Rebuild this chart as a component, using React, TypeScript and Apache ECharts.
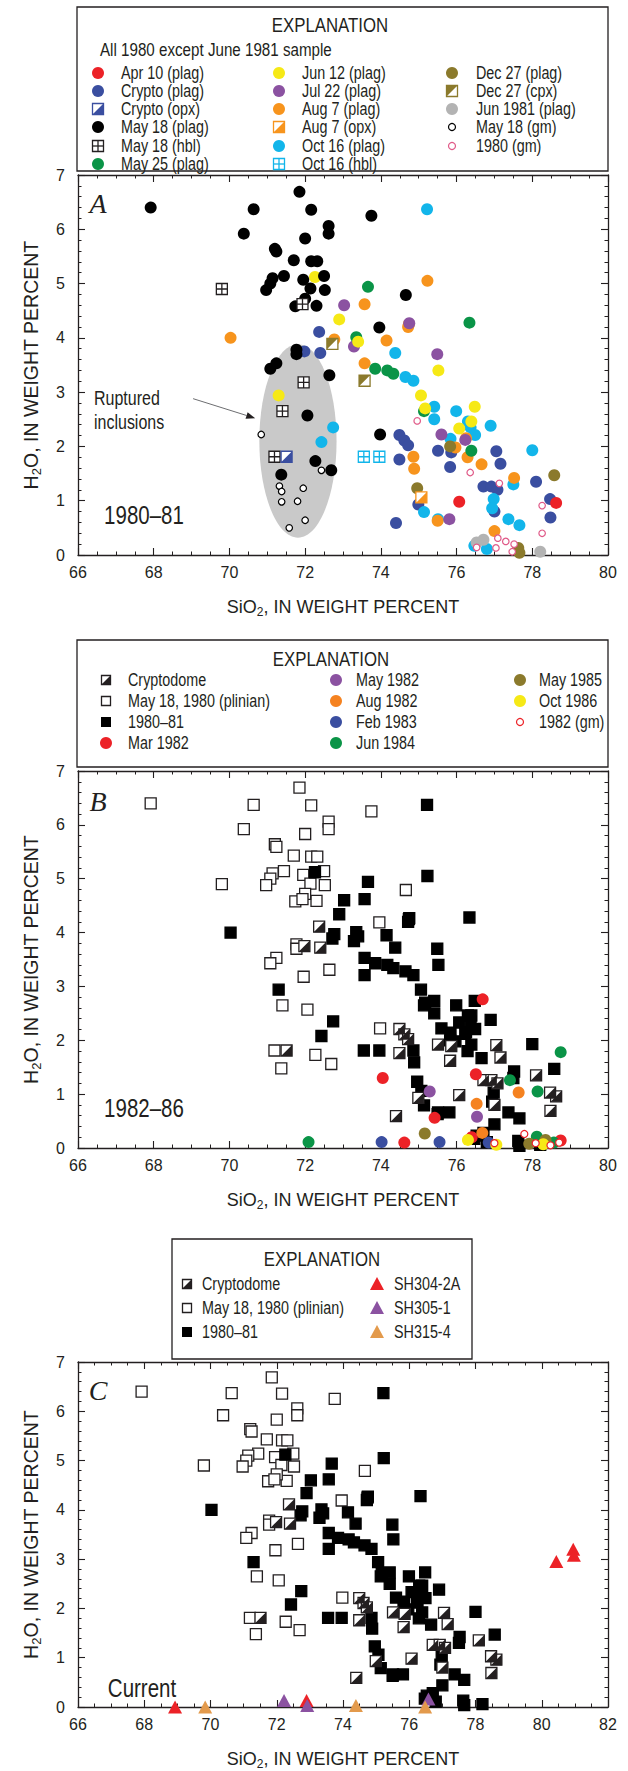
import React, { useEffect, useRef } from "react";
import * as echarts from "echarts";

// ---------- page / layout ----------
const W = 628;
const H = 1771;
const SANS = "'Liberation Sans', Arial, sans-serif";
const SERIF = "'Liberation Serif', 'Times New Roman', serif";
const INK = "#231f20";
// condensed lettering is drawn with the sans face squeezed horizontally
const NARROW_SCALE = 0.82;

const PLOT_LEFT = 78;
const PLOT_WIDTH = 530;
const PANELS = [
  { top: 175, height: 380, xMax: 80 },
  { top: 771, height: 377, xMax: 80 },
  { top: 1362, height: 364, xMax: 82 },
];

// ---------- colours ----------
const C_RED = "#ec2227";
const C_BLUE = "#3a4ea0";
const C_GREEN = "#0a9447";
const C_YELLOW = "#f6e916";
const C_PURPLE = "#8b52a1";
const C_ORANGE = "#f7941d";
const C_ORANGE_B = "#f58220";
const C_CYAN = "#12b5ea";
const C_OLIVE = "#8b7a2c";
const C_GRAY = "#b3b3b3";
const C_PINK = "#e05a88";
const C_TAN = "#e39a4c";
const C_ELLIPSE = "#c9c9c9";

// ---------- panel A data: SiO2 (wt %), H2O (wt %) ----------
const apr10Plag: number[][] = [[76.07, 0.98], [78.63, 0.96]];
const cryptoPlag: number[][] = [
  [72.37, 4.11], [71.98, 3.75], [72.4, 3.72], [74.49, 2.21], [74.62, 2.11], [74.72, 2.02],
  [74.49, 1.76], [75.51, 1.92], [75.86, 1.89], [75.83, 1.62], [77.05, 1.91], [77.16, 1.68],
  [76.71, 1.26], [76.92, 1.26], [77.08, 1.2], [78.1, 1.35], [78.47, 1.03], [78.48, 0.69],
  [77.0, 0.8], [74.4, 0.59], [74.99, 0.93],
];
const cryptoOpx: number[][] = [[71.51, 1.81]];
const may18Plag: number[][] = [
  [67.92, 6.4], [70.64, 6.37], [70.38, 5.92], [71.85, 6.69], [72.16, 6.36], [72.62, 6.06],
  [72.62, 5.92], [73.75, 6.25], [72.0, 5.83], [71.2, 5.64], [71.24, 5.59], [71.7, 5.43],
  [72.16, 5.41], [72.32, 5.41], [71.44, 5.14], [71.14, 5.1], [71.08, 5.0], [70.97, 4.88],
  [71.95, 5.07], [72.5, 5.14], [72.52, 4.88], [72.14, 4.91], [71.74, 4.58], [72.3, 4.59],
  [72.0, 4.72], [74.66, 4.79], [73.96, 4.19], [71.77, 3.78], [71.77, 3.7], [71.24, 3.53],
  [71.08, 3.43], [72.64, 3.31], [72.06, 2.57], [73.98, 2.22], [72.27, 1.73], [72.69, 1.56],
  [71.37, 1.48],
];
const may18Hbl: number[][] = [[69.8, 4.9], [71.93, 4.62], [71.96, 3.18], [71.4, 2.65], [71.19, 1.81]];
const may25Plag: number[][] = [
  [73.66, 4.94], [76.34, 4.28], [73.35, 4.01], [73.85, 3.43], [74.17, 3.4], [74.33, 3.34],
  [75.14, 2.65], [76.39, 1.92],
];
const jun12Plag: number[][] = [
  [72.26, 5.12], [72.9, 4.34], [73.4, 3.93], [71.3, 2.94], [75.06, 2.94], [75.17, 2.7],
  [75.52, 3.4], [76.48, 2.73], [76.07, 2.33], [76.39, 2.46],
];
const jul22Plag: number[][] = [
  [73.03, 4.6], [73.29, 3.84], [74.75, 4.27], [75.49, 3.7], [75.6, 2.22], [75.81, 0.66], [76.23, 2.12],
];
const aug7Plag: number[][] = [
  [70.03, 4.0], [73.57, 4.62], [75.23, 5.05], [74.72, 4.2], [74.74, 4.25], [74.15, 3.95],
  [73.57, 3.53], [72.77, 3.97], [74.86, 1.81], [74.88, 1.59], [75.97, 1.98], [76.29, 1.8],
  [76.66, 1.67], [77.52, 1.42], [77.0, 0.44], [76.25, 2.15], [75.5, 0.63],
];
const aug7Opx: number[][] = [[75.07, 1.06]];
const oct16Plag: number[][] = [
  [75.22, 6.37], [74.38, 3.72], [74.65, 3.28], [74.86, 3.21], [72.74, 2.35], [72.43, 2.08],
  [75.41, 2.73], [75.41, 2.5], [75.99, 2.65], [76.3, 2.46], [76.37, 2.35], [76.49, 2.21],
  [76.9, 2.38], [75.84, 2.14], [78.0, 1.93], [77.5, 1.3], [76.98, 1.03], [76.94, 0.86],
  [75.14, 0.79], [75.51, 0.66], [77.37, 0.66], [77.66, 0.55], [76.47, 0.17], [76.8, 0.11],
];
const oct16Hbl: number[][] = [[73.55, 1.81], [73.96, 1.81]];
const dec27Plag: number[][] = [[74.96, 1.23], [75.83, 2.0], [78.58, 1.47], [77.63, 0.13], [77.66, 0.04]];
const dec27Cpx: number[][] = [[72.72, 3.89], [73.57, 3.21]];
const jun1981Plag: number[][] = [[76.53, 0.23], [76.71, 0.28], [78.21, 0.06]];
const may18Gm: number[][] = [
  [70.84, 2.22], [72.43, 1.56], [71.32, 1.27], [71.38, 1.17], [71.38, 0.98], [71.8, 0.99],
  [71.95, 1.23], [72.0, 0.64], [71.58, 0.5],
];
const gm1980: number[][] = [
  [74.96, 2.47], [76.36, 1.52], [77.13, 1.32], [78.26, 0.91], [78.26, 0.4], [76.53, 0.14],
  [77.09, 0.31], [77.04, 0.13], [77.3, 0.25], [77.52, 0.2], [77.47, 0.06],
];
// shaded field of ruptured inclusions: centre x, centre y, half-width, half-height
const rupturedField: number[] = [71.81, 2.1, 1.02, 1.78];
const arrowFrom: number[] = [69.04, 2.88];
const arrowTo: number[] = [70.68, 2.52];

// ---------- panel B / C groupings of the 1980-81 analyses ----------
const cryptodome = [...apr10Plag, ...cryptoPlag, ...cryptoOpx];
const plinian = [...may18Plag, ...may18Hbl];
const eruptions1980to81 = [
  ...may25Plag, ...jun12Plag, ...jul22Plag, ...aug7Plag, ...aug7Opx, ...oct16Plag,
  ...oct16Hbl, ...dec27Plag, ...dec27Cpx, ...jun1981Plag,
];

// ---------- panel B: 1982-86 samples ----------
const mar1982: number[][] = [[76.69, 2.76], [74.05, 1.3], [76.51, 1.37], [75.42, 0.56], [74.62, 0.1], [76.4, 0.2], [78.75, 0.14]];
const may1982: number[][] = [[75.29, 1.05], [76.54, 0.58]];
const aug1982: number[][] = [[76.53, 0.82], [77.64, 1.03], [76.68, 0.28]];
const feb1983: number[][] = [[74.02, 0.11], [75.55, 0.11], [76.85, 0.1]];
const jun1984: number[][] = [[72.09, 0.11], [77.41, 1.26], [78.14, 1.05], [78.75, 1.78], [78.12, 0.21], [78.57, 0.1]];
const may1985: number[][] = [[75.16, 0.27], [77.92, 0.08], [78.35, 0.15]];
const oct1986: number[][] = [[76.3, 0.15], [77.05, 0.06], [78.29, 0.07]];
const gm1982: number[][] = [[77.0, 0.09], [77.79, 0.26], [78.09, 0.09], [78.71, 0.1], [78.48, 0.05]];

// ---------- panel C: current samples ----------
const sh304_2A: number[][] = [[68.93, 0.0], [72.9, 0.13], [80.44, 2.95], [80.95, 3.2], [80.97, 3.08]];
const sh305_1: number[][] = [[72.22, 0.13], [72.92, 0.03], [76.58, 0.16]];
const sh315_4: number[][] = [[69.84, 0.0], [74.39, 0.03], [76.48, 0.0]];

// ---------- tick labels ----------
const yTicks = [0, 1, 2, 3, 4, 5, 6, 7];

// ---------- series helpers ----------
const AX = (i: number) => ({ xAxisIndex: 2 * i, yAxisIndex: 2 * i });
const base = (i: number, data: number[][]) => ({ type: "scatter", ...AX(i), data, silent: true, animation: false });

const dots = (i: number, data: number[][], color: string, size = 12) => ({
  ...base(i, data), symbol: "circle", symbolSize: size, itemStyle: { color, opacity: 1 },
});
const rings = (i: number, data: number[][], color: string, size = 7) => ({
  ...base(i, data), symbol: "circle", symbolSize: size,
  itemStyle: { color: "#ffffff", borderColor: color, borderWidth: 1.2, opacity: 1 },
});
const squares = (i: number, data: number[][], fill: string, stroke: string, size = 11) => ({
  ...base(i, data), symbol: "rect", symbolSize: size,
  itemStyle: { color: fill, borderColor: stroke, borderWidth: 1.3, opacity: 1 },
});
const HALF_LR = "path://M10,0L10,10L0,10Z";
const HALF_UL = "path://M0,0L10,0L0,10Z";
const halfSquares = (i: number, data: number[][], color: string, corner: "LR" | "UL", size = 11) => [
  squares(i, data, "#ffffff", color, size),
  { ...base(i, data), symbol: corner === "LR" ? HALF_LR : HALF_UL, symbolSize: size, itemStyle: { color, opacity: 1 } },
];
const crossSquares = (i: number, data: number[][], color: string) => ({
  ...base(i, data), symbol: "path://M0,0H10V10H0Z M5,0V10 M0,5H10", symbolSize: 11,
  itemStyle: { color: "#ffffff", borderColor: color, borderWidth: 1.3, opacity: 1 },
});
const triangles = (i: number, data: number[][], color: string) => ({
  ...base(i, data), symbol: "triangle", symbolSize: [14, 13], itemStyle: { color, opacity: 1 },
});

// ---------- axes ----------
const lineStyle = { color: INK, width: 1.3 };
const nameRich = (size: number) => ({
  t: { fontFamily: SANS, fontSize: size, color: INK },
  s: { fontFamily: SANS, fontSize: Math.round(size * 0.66), color: INK, padding: [Math.round(size * 0.55), 0, 0, 0] },
});

function axesFor(i: number, xMax: number) {
  const common = {
    type: "value",
    gridIndex: i,
    axisLine: { show: true, onZero: false, lineStyle },
    axisTick: { show: true, inside: true, length: 7, lineStyle: { color: INK, width: 1.1 } },
    splitLine: { show: false },
    minorSplitLine: { show: false },
  };
  const xBase = {
    ...common, min: 66, max: xMax, interval: 2,
    minorTick: { show: true, splitNumber: 4, length: 3.5, lineStyle: { color: INK, width: 1 } },
  };
  const yBase = {
    ...common, min: 0, max: 7, interval: 1,
    minorTick: { show: true, splitNumber: 5, length: 3.5, lineStyle: { color: INK, width: 1 } },
  };
  const x = [
    {
      ...xBase, position: "bottom",
      axisLabel: { show: true, fontFamily: SANS, fontSize: 16, color: INK, margin: 9 },
      name: "{t|SiO}{s|2}{t|, IN WEIGHT PERCENT}", nameLocation: "middle", nameGap: 41,
      nameTextStyle: { rich: nameRich(18) },
    },
    { ...xBase, position: "top", axisLabel: { show: false } },
  ];
  const y = [
    {
      ...yBase, position: "left",
      axisLabel: {
        show: true, fontFamily: SANS, fontSize: 16, color: INK, margin: 13,
        formatter: (v: number) => (yTicks.includes(v) ? String(v) : ""),
      },
      name: "{t|H}{s|2}{t|O, IN WEIGHT PERCENT}", nameLocation: "middle", nameGap: 35, nameRotate: 90,
      nameTextStyle: { rich: nameRich(19.5) },
    },
    { ...yBase, position: "right", axisLabel: { show: false } },
  ];
  return { x, y };
}

// ---------- graphic helpers (legends and panel labels) ----------
const txt = (x: number, y: number, text: string, size: number, opts: any = {}) => {
  const { family = SANS, align = "left", narrow = true, style = {} } = opts;
  return {
    type: "text", x, y, silent: true,
    scaleX: narrow ? NARROW_SCALE : 1,
    style: {
      x: 0, y: 0, text, fontSize: size, fontFamily: family, fill: INK,
      align, verticalAlign: "middle", textAlign: align, textVerticalAlign: "middle", ...style,
    },
  };
};
const box = (x: number, y: number, w: number, h: number) => ({
  type: "rect", silent: true, shape: { x, y, width: w, height: h },
  style: { fill: "#ffffff", stroke: INK, lineWidth: 1.3 },
});

type IconKind = "dot" | "ring" | "square" | "open" | "halfLR" | "halfUL" | "cross" | "tri";
function icon(cx: number, cy: number, kind: IconKind, color: string, size = 12): any[] {
  const h = size / 2;
  const sq = { x: cx - h, y: cy - h, width: size, height: size };
  switch (kind) {
    case "dot":
      return [{ type: "circle", silent: true, shape: { cx, cy, r: h }, style: { fill: color } }];
    case "ring":
      return [{ type: "circle", silent: true, shape: { cx, cy, r: h }, style: { fill: "#fff", stroke: color, lineWidth: 1.2 } }];
    case "square":
      return [{ type: "rect", silent: true, shape: sq, style: { fill: color } }];
    case "open":
      return [{ type: "rect", silent: true, shape: sq, style: { fill: "#fff", stroke: color, lineWidth: 1.3 } }];
    case "halfLR":
    case "halfUL": {
      const pts = kind === "halfLR"
        ? [[cx + h, cy - h], [cx + h, cy + h], [cx - h, cy + h]]
        : [[cx - h, cy - h], [cx + h, cy - h], [cx - h, cy + h]];
      return [
        { type: "rect", silent: true, shape: sq, style: { fill: "#fff", stroke: color, lineWidth: 1.3 } },
        { type: "polygon", silent: true, shape: { points: pts }, style: { fill: color } },
      ];
    }
    case "cross":
      return [
        { type: "rect", silent: true, shape: sq, style: { fill: "#fff", stroke: color, lineWidth: 1.3 } },
        { type: "line", silent: true, shape: { x1: cx, y1: cy - h, x2: cx, y2: cy + h }, style: { stroke: color, lineWidth: 1.3 } },
        { type: "line", silent: true, shape: { x1: cx - h, y1: cy, x2: cx + h, y2: cy }, style: { stroke: color, lineWidth: 1.3 } },
      ];
    case "tri":
      return [{ type: "polygon", silent: true, shape: { points: [[cx, cy - h], [cx + h, cy + h * 0.85], [cx - h, cy + h * 0.85]] }, style: { fill: color } }];
  }
  return [];
}

type Entry = [string, IconKind, string, number?];
function legendColumn(iconX: number, textX: number, rows: number[], entries: Entry[], fontSize: number): any[] {
  const out: any[] = [];
  entries.forEach((e, k) => {
    const [label, kind, color, size] = e;
    out.push(...icon(iconX, rows[k], kind, color, size ?? 12));
    out.push(txt(textX, rows[k], label, fontSize));
  });
  return out;
}

function buildGraphics(): any[] {
  const g: any[] = [];

  // ----- legend, panel A -----
  g.push(box(77, 7, 531, 164));
  g.push(txt(330, 25, "EXPLANATION", 20.5, { align: "center" }));
  g.push(txt(100, 50, "All 1980 except June 1981 sample", 18.5));
  const rowsA = [73, 91, 109, 127, 146, 164];
  g.push(...legendColumn(98, 121, rowsA, [
    ["Apr 10 (plag)", "dot", C_RED],
    ["Crypto (plag)", "dot", C_BLUE],
    ["Crypto (opx)", "halfLR", C_BLUE, 11],
    ["May 18 (plag)", "dot", "#000000"],
    ["May 18 (hbl)", "cross", INK, 11],
    ["May 25 (plag)", "dot", C_GREEN],
  ], 17.5));
  g.push(...legendColumn(279, 302, rowsA, [
    ["Jun 12 (plag)", "dot", C_YELLOW],
    ["Jul 22 (plag)", "dot", C_PURPLE],
    ["Aug 7 (plag)", "dot", C_ORANGE],
    ["Aug 7 (opx)", "halfLR", C_ORANGE, 11],
    ["Oct 16 (plag)", "dot", C_CYAN],
    ["Oct 16 (hbl)", "cross", C_CYAN, 11],
  ], 17.5));
  g.push(...legendColumn(452, 476, rowsA, [
    ["Dec 27 (plag)", "dot", C_OLIVE],
    ["Dec 27 (cpx)", "halfUL", C_OLIVE, 11],
    ["Jun 1981 (plag)", "dot", C_GRAY],
    ["May 18 (gm)", "ring", "#000000", 7],
    ["1980 (gm)", "ring", C_PINK, 7],
  ], 17.5));

  // ----- legend, panel B -----
  g.push(box(77, 640, 531, 127));
  g.push(txt(331, 659, "EXPLANATION", 20.5, { align: "center" }));
  const rowsB = [680, 701, 722, 743];
  g.push(...legendColumn(106, 128, rowsB, [
    ["Cryptodome", "halfLR", INK, 9],
    ["May 18, 1980 (plinian)", "open", INK, 9],
    ["1980\u201381", "square", "#000000", 10],
    ["Mar 1982", "dot", C_RED],
  ], 17.5));
  g.push(...legendColumn(336, 356, rowsB, [
    ["May 1982", "dot", C_PURPLE],
    ["Aug 1982", "dot", C_ORANGE_B],
    ["Feb 1983", "dot", C_BLUE],
    ["Jun 1984", "dot", C_GREEN],
  ], 17.5));
  g.push(...legendColumn(520, 539, rowsB, [
    ["May 1985", "dot", C_OLIVE],
    ["Oct 1986", "dot", C_YELLOW],
    ["1982 (gm)", "ring", C_RED, 7],
  ], 17.5));

  // ----- legend, panel C -----
  g.push(box(172, 1239, 300, 120));
  g.push(txt(322, 1259, "EXPLANATION", 20.5, { align: "center" }));
  const rowsC = [1284, 1308, 1332];
  g.push(...legendColumn(187, 202, rowsC, [
    ["Cryptodome", "halfLR", INK, 9],
    ["May 18, 1980 (plinian)", "open", INK, 9],
    ["1980\u201381", "square", "#000000", 10],
  ], 17.5));
  g.push(...legendColumn(377, 394, rowsC, [
    ["SH304-2A", "tri", C_RED, 14],
    ["SH305-1", "tri", C_PURPLE, 14],
    ["SH315-4", "tri", C_TAN, 14],
  ], 17.5));

  // ----- panel letters and period labels -----
  const letter = { family: SERIF, align: "center", narrow: false, style: { fontStyle: "italic" } };
  g.push(txt(98, 203, "A", 28, letter));
  g.push(txt(144, 515, "1980\u201381", 25, { align: "center" }));
  g.push(txt(94, 398, "Ruptured", 19.5));
  g.push(txt(94, 422, "inclusions", 19.5));
  g.push(txt(98, 801, "B", 28, letter));
  g.push(txt(144, 1108, "1982\u201386", 25, { align: "center" }));
  g.push(txt(98, 1390, "C", 28, letter));
  g.push(txt(142, 1688, "Current", 25, { align: "center" }));
  return g;
}

// ---------- option ----------
function buildOption(): any {
  const xAxis: any[] = [];
  const yAxis: any[] = [];
  PANELS.forEach((p, i) => {
    const a = axesFor(i, p.xMax);
    xAxis.push(...a.x);
    yAxis.push(...a.y);
  });

  const ellipseSeries = {
    type: "custom", ...AX(0), silent: true, z: 1,
    data: [rupturedField],
    renderItem: (_p: any, api: any) => {
      const c = api.coord([api.value(0), api.value(1)]);
      const s = api.size([api.value(2), api.value(3)]);
      return { type: "ellipse", shape: { cx: c[0], cy: c[1], rx: s[0], ry: s[1] }, style: { fill: C_ELLIPSE } };
    },
  };
  const arrowSeries = {
    type: "custom", ...AX(0), silent: true, z: 3,
    data: [[...arrowFrom, ...arrowTo]],
    renderItem: (_p: any, api: any) => {
      const p1 = api.coord([api.value(0), api.value(1)]);
      const p2 = api.coord([api.value(2), api.value(3)]);
      const ang = Math.atan2(p2[1] - p1[1], p2[0] - p1[0]);
      const L = 9, hw = 3.5;
      const bx = p2[0] - L * Math.cos(ang), by = p2[1] - L * Math.sin(ang);
      const nx = -Math.sin(ang), ny = Math.cos(ang);
      return {
        type: "group",
        children: [
          { type: "line", shape: { x1: p1[0], y1: p1[1], x2: bx, y2: by }, style: { stroke: "#6d6e71", lineWidth: 1 } },
          { type: "polygon", shape: { points: [[p2[0], p2[1]], [bx + nx * hw, by + ny * hw], [bx - nx * hw, by - ny * hw]] }, style: { fill: INK } },
        ],
      };
    },
  };

  const seriesA: any[] = [
    ellipseSeries,
    arrowSeries,
    dots(0, cryptoPlag, C_BLUE),
    dots(0, oct16Plag, C_CYAN),
    dots(0, aug7Plag, C_ORANGE),
    dots(0, jul22Plag, C_PURPLE),
    dots(0, may25Plag, C_GREEN),
    dots(0, jun12Plag, C_YELLOW),
    dots(0, dec27Plag, C_OLIVE),
    dots(0, apr10Plag, C_RED),
    dots(0, jun1981Plag, C_GRAY),
    dots(0, may18Plag, "#000000"),
    crossSquares(0, may18Hbl, INK),
    crossSquares(0, oct16Hbl, C_CYAN),
    ...halfSquares(0, cryptoOpx, C_BLUE, "LR"),
    ...halfSquares(0, aug7Opx, C_ORANGE, "LR"),
    ...halfSquares(0, dec27Cpx, C_OLIVE, "UL"),
    rings(0, may18Gm, "#000000", 6.5),
    rings(0, gm1980, C_PINK, 6.5),
  ];

  const squaresFor = (i: number) => [
    squares(i, plinian, "#ffffff", INK),
    squares(i, eruptions1980to81, "#000000", "#000000"),
    ...halfSquares(i, cryptodome, INK, "LR"),
  ];

  const seriesB: any[] = [
    ...squaresFor(1),
    dots(1, mar1982, C_RED),
    dots(1, may1982, C_PURPLE),
    dots(1, aug1982, C_ORANGE_B),
    dots(1, feb1983, C_BLUE),
    dots(1, jun1984, C_GREEN),
    dots(1, may1985, C_OLIVE),
    dots(1, oct1986, C_YELLOW),
    rings(1, gm1982, C_RED, 7),
  ];

  const seriesC: any[] = [
    ...squaresFor(2),
    triangles(2, sh304_2A, C_RED),
    triangles(2, sh305_1, C_PURPLE),
    triangles(2, sh315_4, C_TAN),
  ];

  return {
    animation: false,
    backgroundColor: "#ffffff",
    textStyle: { fontFamily: SANS },
    grid: PANELS.map((p) => ({ left: PLOT_LEFT, top: p.top, width: PLOT_WIDTH, height: p.height, containLabel: false })),
    xAxis,
    yAxis,
    series: [...seriesA, ...seriesB, ...seriesC],
    graphic: { elements: buildGraphics() },
  };
}

export default function App() {
  const ref = useRef<HTMLDivElement>(null);
  useEffect(() => {
    if (!ref.current) return;
    const chart = echarts.init(ref.current, null, { renderer: "svg" });
    chart.setOption(buildOption());
    return () => chart.dispose();
  }, []);
  return (
    <div
      ref={ref}
      style={{ position: "absolute", left: 0, top: 0, width: W, height: H, background: "#ffffff" }}
    />
  );
}
